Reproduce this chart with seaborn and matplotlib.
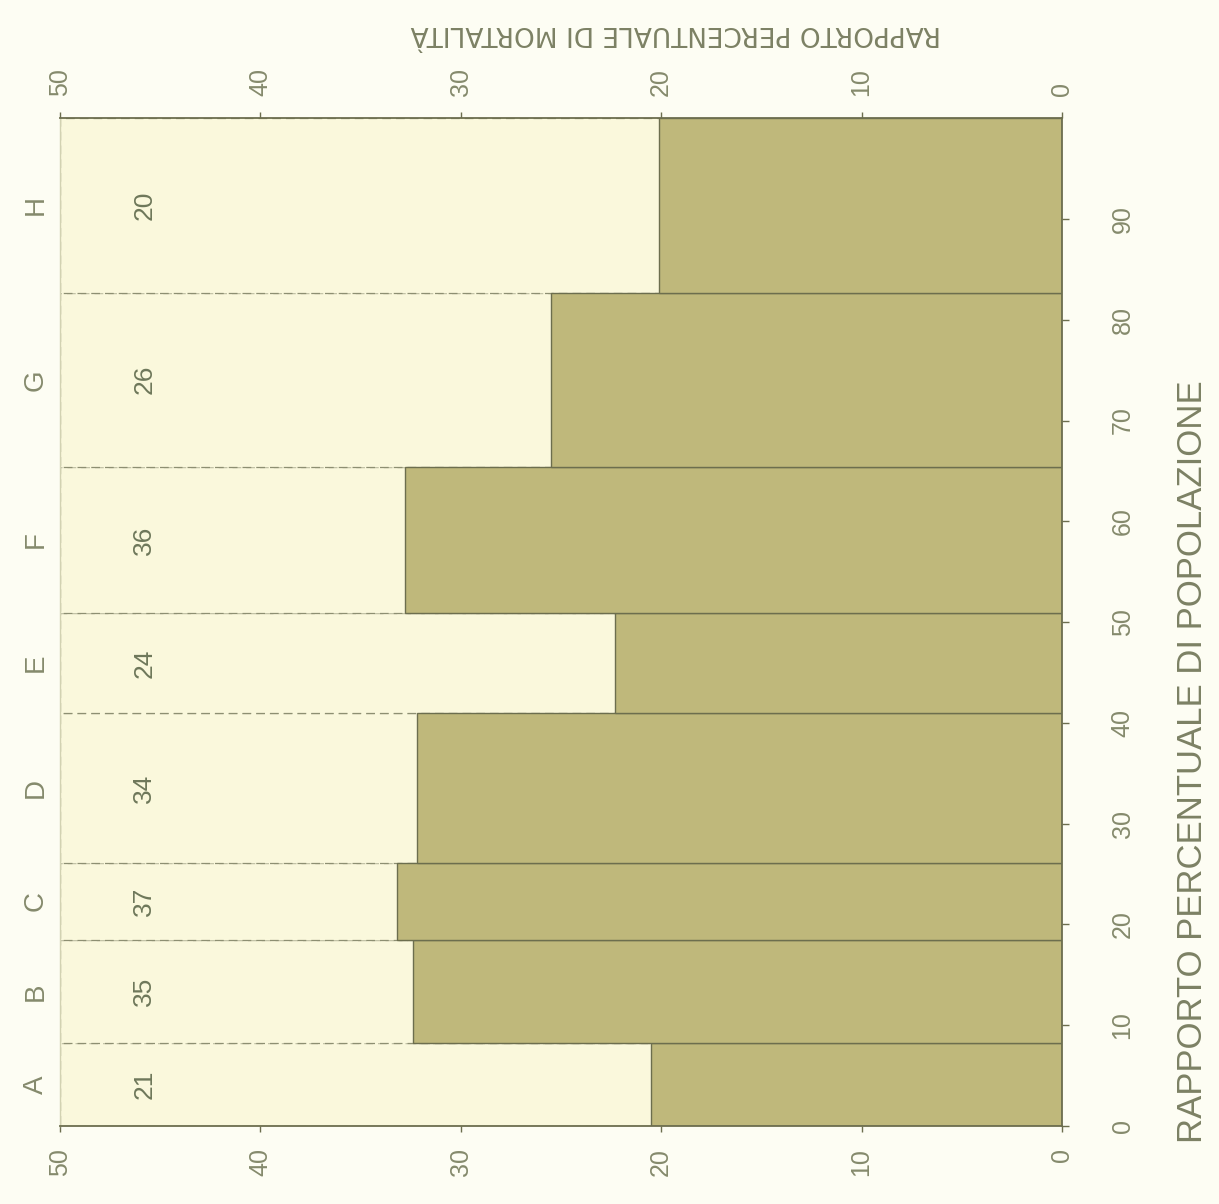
import matplotlib
matplotlib.use("Agg")
import matplotlib.pyplot as plt
import seaborn as sns
import numpy as np

# quote di popolazione (larghezza di ogni fascia, in %)
gruppi = ["A", "B", "C", "D", "E", "F", "G", "H"]
quota_popolazione = [8.2, 10.3, 7.6, 14.9, 9.9, 14.5, 17.3, 17.3]
# rapporto percentuale di mortalità per gruppo
quota_mortalita = [20.5, 32.4, 33.2, 32.2, 22.3, 32.8, 25.5, 20.1]
etichette = ["21", "35", "37", "34", "24", "36", "26", "20"]

x_ticks = [0, 10, 20, 30, 40, 50]
y_ticks = [0, 10, 20, 30, 40, 50, 60, 70, 80, 90]

sns.set_style("white")
plt.rcParams["font.family"] = ["Liberation Sans", "DejaVu Sans"]

CHIARO = "#faf8dc"
SCURO = "#bfb87b"
LINEA = "#6c6e4e"
TESTO = "#858a6c"

fig = plt.figure(figsize=(12.19, 12.04), dpi=100, facecolor="#fdfdf3")
ax = fig.add_axes([0.0492, 0.0648, 0.822, 0.837])
ax.set_facecolor(CHIARO)

inizi = np.concatenate([[0], np.cumsum(quota_popolazione)[:-1]])

# fasce chiare (tutta la larghezza) con bordo tratteggiato
ax.barh(inizi, [50] * len(gruppi), height=quota_popolazione, align="edge",
        color=CHIARO, edgecolor="#8d8f72", linewidth=0.9, linestyle=(0, (7, 4)))
# barre di mortalità
ax.barh(inizi, quota_mortalita, height=quota_popolazione, align="edge",
        color=SCURO, edgecolor=LINEA, linewidth=1.0)

for g, y0, h, lab in zip(gruppi, inizi, quota_popolazione, etichette):
    yc = y0 + h / 2
    ax.text(51.2, yc, g, rotation=90, ha="center", va="center",
            fontsize=20, color=TESTO, clip_on=False)
    ax.text(45.8, yc, lab, rotation=90, ha="center", va="center",
            fontsize=19, color="#6e785a")

ax.set_xlim(50, 0)
ax.set_ylim(0, 100)

ax.set_xticks(x_ticks)
ax.set_xticklabels([str(t) for t in x_ticks])
ax.tick_params(axis="x", bottom=True, top=True, labelbottom=True, labeltop=True,
               labelrotation=90, direction="out", length=4, width=1,
               color=LINEA, labelsize=18, labelcolor=TESTO, pad=12)
ax.yaxis.tick_right()
ax.set_yticks(y_ticks)
ax.set_yticklabels([str(t) for t in y_ticks])
ax.tick_params(axis="y", left=False, right=True, labelrotation=90, direction="out",
               length=5, width=1, color=LINEA, labelsize=18, labelcolor=TESTO, pad=30)
for lab in ax.get_yticklabels():
    lab.set_va("center")

for side in ["top", "bottom", "right"]:
    ax.spines[side].set_color(LINEA)
    ax.spines[side].set_linewidth(1.3)
ax.spines["left"].set_color("#d2d2b2")
ax.spines["left"].set_linewidth(1.0)

fig.text(0.978, 0.367, "RAPPORTO PERCENTUALE DI POPOLAZIONE", rotation=90,
         ha="center", va="center", fontsize=25, color="#7c8164")
fig.text(0.554, 0.973, "RAPPORTO PERCENTUALE DI MORTALITÀ", rotation=180,
         ha="center", va="center", fontsize=19, color="#7c8164",
         family=["Liberation Sans Narrow", "DejaVu Sans"])

fig.savefig("out.png", dpi=100, facecolor=fig.get_facecolor())
